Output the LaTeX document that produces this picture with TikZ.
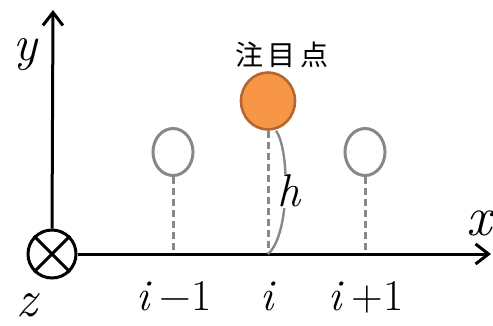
\documentclass[tikz,border=0pt]{standalone}
\usepackage{fontspec}
\newfontfamily\cjk{Noto Sans CJK JP}
\usetikzlibrary{arrows.meta,shapes.geometric}
\definecolor{orfill}{HTML}{F79646}
\definecolor{ordraw}{HTML}{B4662E}
\definecolor{gr}{HTML}{888888}
\tikzset{
  axis/.style={line width=3pt, -{Straight Barb[length=13pt,width=20pt,line width=3pt]}},
  ghost/.style={ellipse, draw=gr, line width=3pt, minimum width=40pt, minimum height=47pt, inner sep=0pt},
  drop/.style={draw=gr, line width=3pt, dash pattern=on 7pt off 4pt},
  lbl/.style={font=\itshape\fontsize{48}{48}\selectfont, inner sep=0pt, anchor=base},
  num/.style={font=\fontsize{44}{44}\selectfont, inner sep=0pt, anchor=base},
}
\begin{document}
\begin{tikzpicture}[x=1pt,y=-1pt]
\useasboundingbox (0,0) rectangle (493,326);
% z-axis symbol
\node (z) [circle, draw, line width=3pt, minimum size=48pt, inner sep=0pt] at (52,254) {};
\draw[line width=3pt] (z.north east) -- (z.south west) (z.north west) -- (z.south east);
\coordinate (ytip) at (53,10);
\coordinate (xtip) at (491,254);
\draw[axis] (z.north) -- (ytip);
\draw[axis] (z.east) -- (xtip);
% points
\node (pl) [ghost] at (173,152) {};
\node (pr) [ghost] at (365,152) {};
\node (pc) [ellipse, fill=orfill, draw=ordraw, line width=2.6pt, minimum width=54pt, minimum height=57pt, inner sep=0pt] at (268,101) {};
\coordinate (bl) at (173,254);
\coordinate (bc) at (268,254);
\coordinate (br) at (365,254);
\draw[drop] (pl.south) -- (bl);
\draw[drop] (pr.south) -- (br);
\draw[drop] (pc.south) -- (bc);
% h brace
\draw[gr, line width=2.4pt] (pc.south) ++(8,0) .. controls (290,150) and (290,235) .. (bc);
\node[lbl, font=\itshape\fontsize{46}{46}\selectfont, fill=white, inner sep=1pt] (h) at (289,207) {h};
% labels
\node (cap) [font=\cjk\fontsize{28}{28}\selectfont, inner sep=0pt] at (282,55) {注\,目\,点};
\node[lbl, font=\itshape\fontsize{50}{50}\selectfont] (ylab) at (25,61) {y};
\node[lbl, font=\itshape\fontsize{56}{56}\selectfont, anchor=base west] (xlab) at (466,235) {x};
\node[lbl, font=\itshape\fontsize{52}{52}\selectfont] (zlab) at (27,316) {z};
\node[num] (lm) at (174,310) {\textit{i}\,−1};
\node[num] (lc) at (268,310) {\textit{i}};
\node[num] (lp) at (366,310) {\textit{i}\,+1};
\end{tikzpicture}
\end{document}
